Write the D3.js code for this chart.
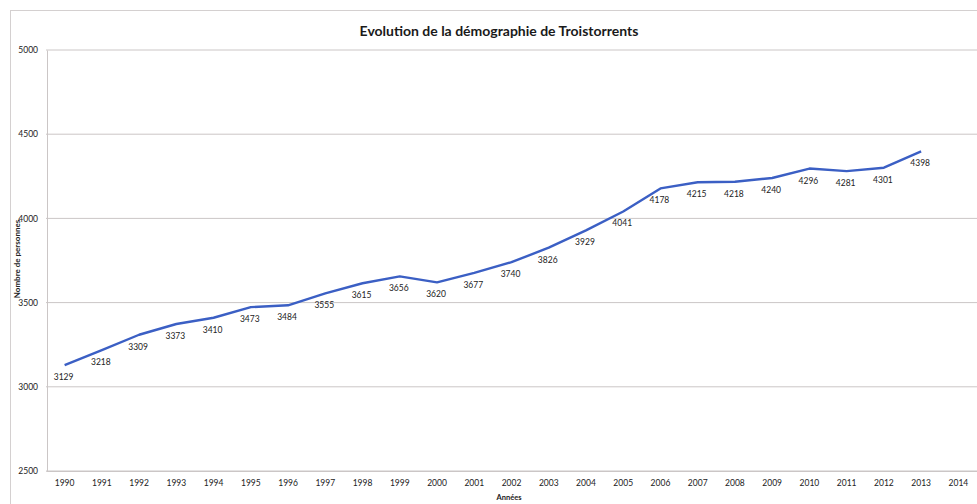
<!DOCTYPE html>
<html>
<head>
<meta charset="utf-8">
<script src="https://cdn.jsdelivr.net/npm/d3@7"></script>
<style>
  body { margin: 0; background: #fff; }
  svg { display: block; font-family: Lato, "Open Sans", sans-serif; }
</style>
</head>
<body>
<svg id="chart"></svg>
<script>
// Chart data
const years = ['1990', '1991', '1992', '1993', '1994', '1995', '1996', '1997', '1998', '1999',
    '2000', '2001', '2002', '2003', '2004', '2005', '2006', '2007', '2008', '2009',
    '2010', '2011', '2012', '2013', '2014'];
const population = [3129, 3218, 3309, 3373, 3410, 3473, 3484, 3555, 3615, 3656,
    3620, 3677, 3740, 3826, 3929, 4041, 4178, 4215, 4218, 4240,
    4296, 4281, 4301, 4398];
const yTicks = [2500, 3000, 3500, 4000, 4500, 5000];

const title = 'Evolution de la démographie de Troistorrents';
const xTitle = 'Années';
const yTitle = 'Nombre de personnes';

// SVG dimensions
let width = 977, height = 504;
let plotLeft = 46, plotRight = 977, plotTop = 50, plotBottom = 471;

let svg = d3.select('#chart')
    .attr('width', width)
    .attr('height', height);

// Outer frame
svg.append('rect')
    .attr('x', 10.5).attr('y', 10.5)
    .attr('width', width - 10).attr('height', height - 9)
    .attr('fill', 'none')
    .attr('stroke', '#d4d0d0');

// Scales
let xScale = d3.scaleBand()
    .domain(years)
    .range([plotLeft, plotRight])
    .padding(0);

let yScale = d3.scaleLinear()
    .domain([2500, 5000])
    .range([plotBottom, plotTop]);

// Gridlines
svg.append('g')
    .selectAll('line')
    .data(yTicks)
    .enter()
    .append('line')
    .attr('x1', plotLeft)
    .attr('x2', plotRight)
    .attr('y1', d => yScale(d))
    .attr('y2', d => yScale(d))
    .attr('stroke', '#cbc6c6')
    .attr('stroke-width', 1);

// Y axis
let yAxis = d3.axisLeft(yScale).tickValues(yTicks).tickFormat(d3.format('d'))
    .tickSize(0).tickPadding(9);
let gy = svg.append('g')
    .attr('transform', `translate(${plotLeft + 1}, 0)`)
    .call(yAxis);
gy.select('.domain').attr('stroke', '#cbc6c6');
gy.selectAll('text')
    .attr('font-size', '8.5px')
    .attr('fill', '#222')
    .attr('font-family', 'Lato, sans-serif');

// X axis
let xAxis = d3.axisBottom(xScale).tickSize(0).tickPadding(9);
let gx = svg.append('g')
    .attr('transform', `translate(0, ${plotBottom})`)
    .call(xAxis);
gx.select('.domain').attr('stroke', '#cbc6c6');
gx.selectAll('text')
    .attr('font-size', '8.5px')
    .attr('fill', '#222')
    .attr('font-family', 'Lato, sans-serif');

// Line
let points = population.map((v, i) => ({ year: years[i], value: v }));
let line = d3.line()
    .x(d => xScale(d.year) + xScale.bandwidth() / 2)
    .y(d => yScale(d.value));

svg.append('path')
    .datum(points)
    .attr('d', line)
    .attr('fill', 'none')
    .attr('stroke', '#3b5fc4')
    .attr('stroke-width', 2.4)
    .attr('stroke-linejoin', 'round');

// Data labels
svg.append('g')
    .selectAll('text')
    .data(points)
    .enter()
    .append('text')
    .attr('x', d => xScale(d.year) + xScale.bandwidth() / 2 - 1)
    .attr('y', d => yScale(d.value) + 15)
    .attr('text-anchor', 'middle')
    .attr('font-size', '8.5px')
    .attr('fill', '#222')
    .text(d => d.value);

// Titles
svg.append('text')
    .attr('x', 499).attr('y', 36)
    .attr('text-anchor', 'middle')
    .attr('font-size', '14px')
    .attr('font-weight', 'bold')
    .attr('fill', '#1a1a1a')
    .text(title);

svg.append('text')
    .attr('x', 509).attr('y', 500)
    .attr('text-anchor', 'middle')
    .attr('font-size', '7.5px')
    .attr('font-weight', 'bold')
    .attr('fill', '#222')
    .text(xTitle);

svg.append('text')
    .attr('transform', 'translate(20, 259) rotate(-90)')
    .attr('text-anchor', 'middle')
    .attr('font-size', '8px')
    .attr('font-weight', 'bold')
    .attr('fill', '#222')
    .text(yTitle);
</script>
</body>
</html>
